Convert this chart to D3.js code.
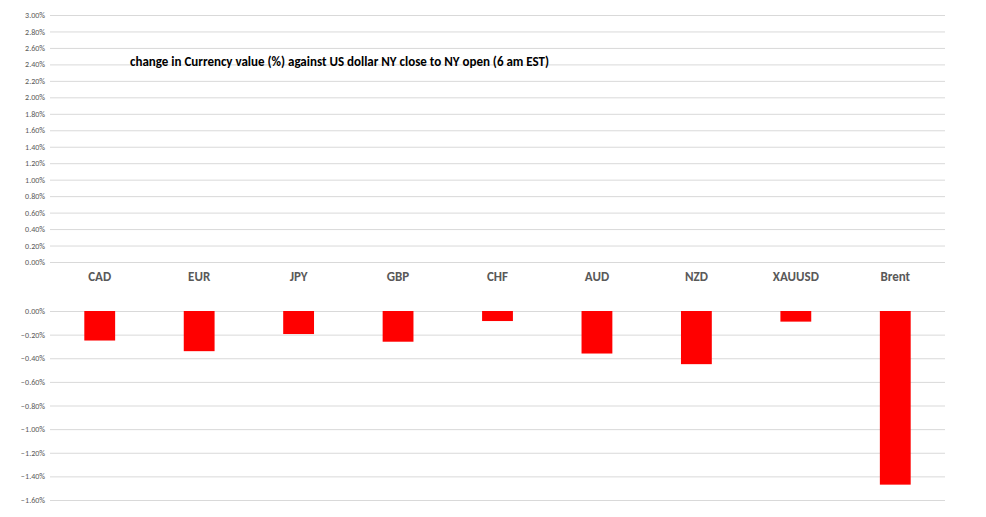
<!DOCTYPE html><html><head><meta charset="utf-8"><script src="https://cdn.jsdelivr.net/npm/d3@7"></script>
<style>body{margin:0;background:#fff}</style></head><body><svg id="c" width="986" height="517"></svg>
<script>
const categories=["CAD","EUR","JPY","GBP","CHF","AUD","NZD","XAUUSD","Brent"];
const values=[-0.25,-0.34,-0.195,-0.26,-0.085,-0.36,-0.45,-0.09,-1.47];
const topTicks=d3.range(0,3.0001,0.2);
const botTicks=d3.range(0,-1.6001,-0.2);
const title="change in Currency value (%)  against US dollar NY  close to NY open (6 am EST)";
const svg=d3.select("#c");
const x=d3.scaleBand().domain(categories).range([50,945]).paddingInner(0.69).paddingOuter(0.345);
const yT=d3.scaleLinear().domain([0,3]).range([262,15]);
const yB=d3.scaleLinear().domain([-1.6,0]).range([500,311]);
const font="Calibri, Carlito, 'Liberation Sans', Arial, sans-serif";
function grid(y,ticks){
 const g=svg.append("g").attr("transform","translate(50,0)").call(d3.axisLeft(y).tickValues(ticks).tickSize(-895).tickFormat(d=>d3.format(".2f")(Math.abs(d)<1e-9?0:d)+"%").tickPadding(5));
 g.select(".domain").remove();
 g.selectAll("line").attr("stroke","#d9d9d9");
 g.selectAll("text").attr("fill","#595959").style("font-family",font).style("font-size","8px");
}
grid(yT,topTicks);grid(yB,botTicks);
svg.append("g").selectAll("text").data(categories).join("text").attr("x",d=>x(d)+x.bandwidth()/2).attr("y",281)
 .attr("text-anchor","middle").attr("fill","#595959").style("font-family",font).style("font-size","13px").style("font-weight","bold").text(d=>d);
svg.append("g").selectAll("rect").data(values).join("rect").attr("x",(d,i)=>x(categories[i])).attr("width",x.bandwidth())
 .attr("y",yB(0)).attr("height",d=>yB(d)-yB(0)).attr("fill","#ff0000");
svg.append("text").attr("x",130).attr("y",66).style("font-family",font).style("font-size","13px").style("font-weight","bold").text(title);
</script></body></html>
